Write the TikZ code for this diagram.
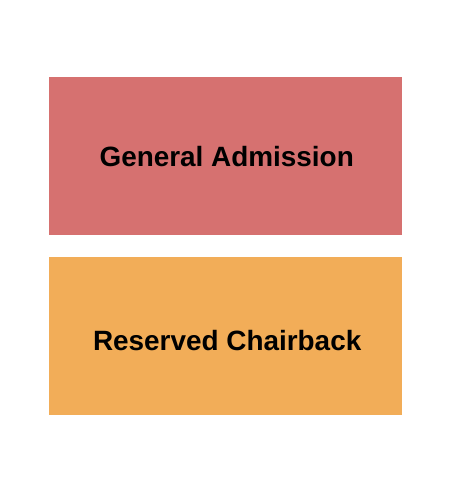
\documentclass[tikz,border=0pt]{standalone}
\usepackage{fontspec}
\setmainfont{Liberation Sans}
\usepackage{xcolor}
\definecolor{garose}{HTML}{D67170}
\definecolor{rcorange}{HTML}{F2AD58}
\usetikzlibrary{positioning}
\tikzset{
  section/.style={rectangle, draw=none, minimum width=353pt, minimum height=158pt, inner sep=0pt},
  sectionlbl/.style={inner sep=0pt, text=black, font=\fontsize{27.9}{30}\selectfont\bfseries},
}

\begin{document}
\begin{tikzpicture}[x=1pt, y=-1pt]
  \useasboundingbox[fill=white] (0,0) rectangle (450,500);
  \node[section, fill=garose, anchor=north west] (ga) at (49,77) {};
  \node[section, fill=rcorange, below=21pt of ga] (rc) {};
  \node[sectionlbl] (galbl) at ([xshift=1pt]ga.center) {General Admission};
  \node[sectionlbl] (rclbl) at ([xshift=1.5pt, yshift=-4.5pt]rc.center) {Reserved Chairback};
\end{tikzpicture}
\end{document}
